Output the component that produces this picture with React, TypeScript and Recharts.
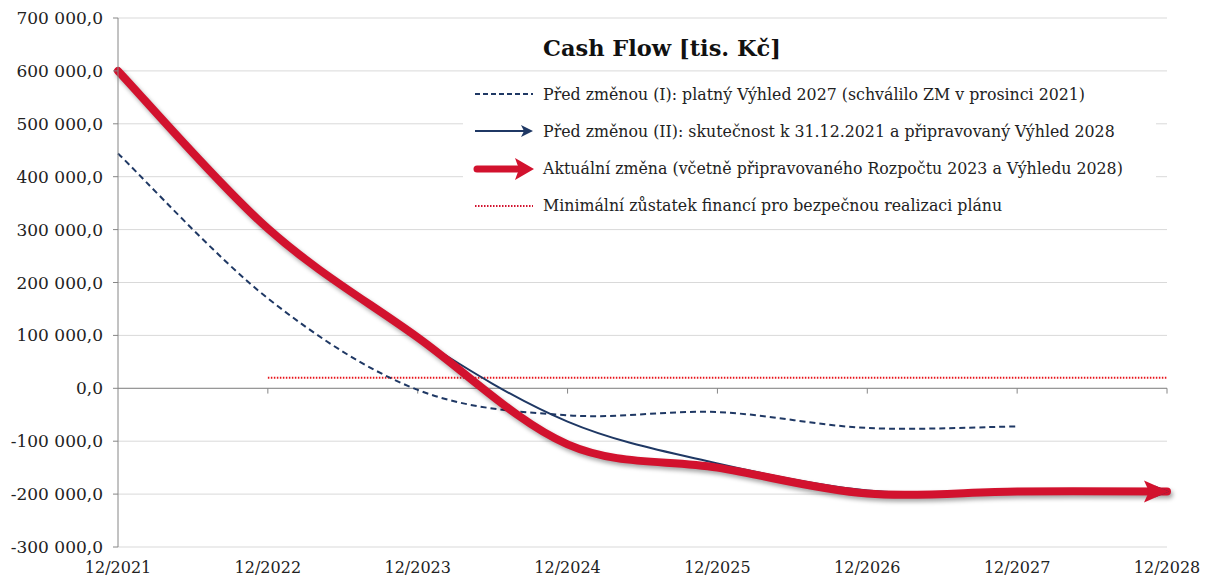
import React from 'react';
import {
  LineChart,
  Line,
  XAxis,
  YAxis,
  CartesianGrid,
  ReferenceLine,
} from 'recharts';

const months = ['12/2021', '12/2022', '12/2023', '12/2024', '12/2025', '12/2026', '12/2027', '12/2028'];
const planI = [444000, 170000, -3000, -51000, -45000, -75000, -72000, null];
const planII = [600000, 302000, 96000, -63000, -142000, -193000, -196000, -195000];
const current = [600000, 302000, 96000, -106000, -150000, -199000, -195000, -195000];
const minBalance = [null, 20000, 20000, 20000, 20000, 20000, 20000, 20000];
const yTicks = [-300000, -200000, -100000, 0, 100000, 200000, 300000, 400000, 500000, 600000, 700000];

const data = months.map((m, i) => ({
  month: m,
  planI: planI[i],
  planII: planII[i],
  current: current[i],
  minBalance: minBalance[i],
}));

const RED = '#d2122e';
const NAVY = '#1f3864';
const FONT = '"DejaVu Serif", Georgia, serif';

// 1 000,0 style labels
const fmt = (v: number) => {
  const [int, dec] = Math.abs(v).toFixed(1).split('.');
  const grouped = int.replace(/\B(?=(\d{3})+(?!\d))/g, ' ');
  return (v < 0 ? '-' : '') + grouped + ',' + dec;
};

// Excel-like smoothed line (cardinal spline, tension 0)
const excelSmooth = (context: any) => {
  let pts: number[][] = [];
  return {
    areaStart() {},
    areaEnd() {},
    lineStart() {
      pts = [];
    },
    point(x: number, y: number) {
      pts.push([+x, +y]);
    },
    lineEnd() {
      const n = pts.length;
      if (!n) return;
      context.moveTo(pts[0][0], pts[0][1]);
      for (let i = 0; i < n - 1; i++) {
        const p0 = pts[Math.max(i - 1, 0)];
        const p1 = pts[i];
        const p2 = pts[i + 1];
        const p3 = pts[Math.min(i + 2, n - 1)];
        context.bezierCurveTo(
          p1[0] + (p2[0] - p0[0]) / 6,
          p1[1] + (p2[1] - p0[1]) / 6,
          p2[0] - (p3[0] - p1[0]) / 6,
          p2[1] - (p3[1] - p1[1]) / 6,
          p2[0],
          p2[1]
        );
      }
    },
  };
};

const arrowDot = (color: string, len: number, half: number) => (props: any) => {
  const { cx, cy, index } = props;
  if (index !== months.length - 1 || cx == null) return <g key={`d-${index}`} />;
  return (
    <polygon
      key={`d-${index}`}
      points={`${cx + 2},${cy} ${cx - len},${cy - half} ${cx - len + 5},${cy} ${cx - len},${cy + half}`}
      fill={color}
    />
  );
};

const legendItems = [
  { label: 'Před změnou (I): platný Výhled 2027 (schválilo ZM v prosinci 2021)', kind: 'dashed' },
  { label: 'Před změnou (II): skutečnost k 31.12.2021 a připravovaný Výhled 2028', kind: 'thin' },
  { label: 'Aktuální změna (včetně připravovaného Rozpočtu 2023 a Výhledu 2028)', kind: 'thick' },
  { label: 'Minimální zůstatek financí pro bezpečnou realizaci plánu', kind: 'dotted' },
];

const LegendSample = ({ kind }: { kind: string }) => (
  <svg width={62} height={24} style={{ display: 'block' }}>
    {kind === 'dashed' && <line x1={2} y1={12} x2={60} y2={12} stroke={NAVY} strokeWidth={2} strokeDasharray="5 3" />}
    {kind === 'thin' && (
      <g>
        <line x1={2} y1={12} x2={52} y2={12} stroke={NAVY} strokeWidth={2} />
        <polygon points="60,12 48,6 51,12 48,18" fill={NAVY} />
      </g>
    )}
    {kind === 'thick' && (
      <g>
        <line x1={4} y1={12} x2={44} y2={12} stroke={RED} strokeWidth={7} strokeLinecap="round" />
        <polygon points="61,12 42,1 46,12 42,23" fill={RED} />
      </g>
    )}
    {kind === 'dotted' && <line x1={2} y1={12} x2={60} y2={12} stroke={RED} strokeWidth={2} strokeDasharray="1.5 1.5" />}
  </svg>
);

export default function App() {
  return (
    <div style={{ position: 'relative', width: 1206, height: 579, background: '#fff', fontFamily: FONT }}>
      <style>{`body{margin:0} .cf-red .recharts-line-curve{filter:drop-shadow(2px 3px 2px rgba(0,0,0,0.35))}`}</style>
      <LineChart width={1206} height={579} data={data} margin={{ top: 18, right: 39, left: 0, bottom: 0 }}>
        <CartesianGrid vertical={false} stroke="#d9d9d9" />
        <XAxis
          dataKey="month"
          axisLine={false}
          tickLine={false}
          tickSize={0}
          tickMargin={15}
          height={32}
          interval={0}
          tick={{ fill: '#222', fontSize: 16, fontFamily: FONT }}
        />
        <YAxis
          type="number"
          domain={[-300000, 700000]}
          ticks={yTicks}
          width={118}
          tickFormatter={fmt}
          tickSize={5}
          tickMargin={10}
          stroke="#868686"
          tick={{ fill: '#222', fontSize: 17, fontFamily: FONT }}
          interval={0}
        />
        <ReferenceLine y={0} stroke="#868686" />
        {months.slice(1).map((m) => (
          <ReferenceLine
            key={m}
            segment={[{ x: m, y: 0 }, { x: m, y: -10000 }]}
            stroke="#868686"
          />
        ))}
        <Line
          dataKey="minBalance"
          type="linear"
          stroke="#e8141b"
          strokeWidth={2}
          strokeDasharray="1.5 1.5"
          dot={false}
          isAnimationActive={false}
        />
        <Line
          dataKey="planI"
          type={excelSmooth as any}
          stroke={NAVY}
          strokeWidth={2}
          strokeDasharray="6 4"
          dot={false}
          isAnimationActive={false}
        />
        <Line
          dataKey="planII"
          type={excelSmooth as any}
          stroke={NAVY}
          strokeWidth={2}
          dot={arrowDot(NAVY, 12, 6)}
          isAnimationActive={false}
        />
        <Line
          className="cf-red"
          dataKey="current"
          type={excelSmooth as any}
          stroke={RED}
          strokeWidth={8}
          strokeLinecap="round"
          dot={arrowDot(RED, 23, 11)}
          isAnimationActive={false}
        />
      </LineChart>
      <div
        style={{
          position: 'absolute',
          left: 543,
          top: 35,
          fontSize: 22.5,
          fontWeight: 'bold',
          color: '#111',
          whiteSpace: 'nowrap',
        }}
      >
        Cash Flow [tis. Kč]
      </div>
      <div
        style={{
          position: 'absolute',
          left: 463,
          top: 78,
          width: 693,
          height: 146,
          background: '#fff',
        }}
      >
        {legendItems.map((item, i) => (
          <div
            key={item.label}
            style={{
              position: 'absolute',
              left: 10,
              top: 4 + i * 37.3,
              display: 'flex',
              alignItems: 'center',
              height: 24,
              whiteSpace: 'nowrap',
              fontSize: 15.8,
              color: '#222',
            }}
          >
            <LegendSample kind={item.kind} />
            <span style={{ marginLeft: 8 }}>{item.label}</span>
          </div>
        ))}
      </div>
    </div>
  );
}
